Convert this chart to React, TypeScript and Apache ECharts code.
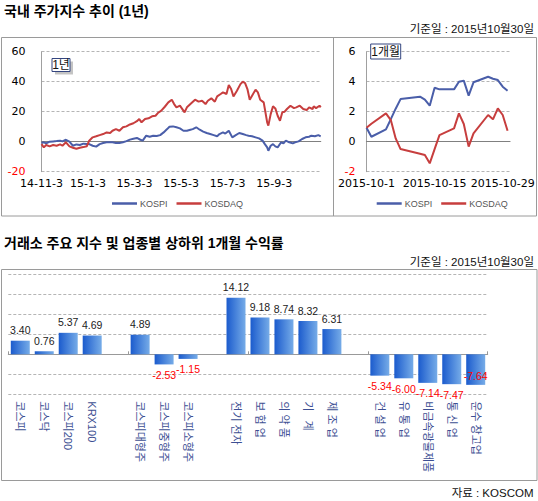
import React, { useEffect, useRef } from "react";
import * as echarts from "echarts";

// ---------- texts ----------
const title1 = "국내 주가지수 추이 (1년)";
const title2 = "거래소 주요 지수 및 업종별 상하위 1개월 수익률";
const baseDate = "기준일 : 2015년10월30일";
const source = "자료 : KOSCOM";
const badge1y = "1년";
const badge1m = "1개월";
const seriesNames = ["KOSPI", "KOSDAQ"];

// ---------- 1-year chart (x = trading-day index, labels every 40 days) ----------
const ticks1y = ["14-11-3", "15-1-3", "15-3-3", "15-5-3", "15-7-3", "15-9-3"];
const kospi1y: [number, number][] = [
  [0, -0.9], [2, -0.4], [4, -1.1], [7, 0], [10, 0.2], [13, 0.4], [16, 0.7], [18, 0.2], [21, 1.3], [24, 0],
  [27, -2.7], [30, -1.8], [33, -2.2], [36, -1.3], [39, -1.6], [41, -1.6], [44, -2.7], [47, -3.3], [50, -1.6],
  [53, -0.9], [56, -0.4], [59, -0.4], [61, -0.4], [64, -0.9], [67, -0.9], [70, -0.4], [73, 0.4], [76, 1.4],
  [79, 2.0], [82, 2.5], [85, 1.3], [87, 0.7], [90, 4.0], [93, 3.3], [96, 4.0], [99, 3.8], [102, 4.4],
  [105, 6.2], [108, 8.4], [110, 10.0], [113, 10.2], [116, 9.6], [119, 8.9], [122, 7.3], [125, 7.3],
  [128, 8.0], [130, 8.4], [133, 9.6], [136, 8.0], [139, 6.7], [142, 5.8], [145, 5.1], [148, 4.4],
  [151, 3.6], [153, 5.1], [156, 6.2], [158, 5.4], [161, 7.3], [164, 2.9], [167, 4.4], [170, 5.8],
  [173, 5.1], [176, 4.4], [178, 4.0], [181, 3.6], [184, 2.9], [187, 2.2], [190, 0.7], [192, -1.6],
  [194, -3.8], [195, -6.0], [197, -2.7], [199, -1.6], [201, -3.1], [203, -3.8], [206, -0.4], [208, -1.1],
  [210, 0.7], [213, -0.4], [216, -1.1], [218, -0.4], [221, 0.2], [224, 1.8], [227, 2.9], [230, 3.3],
  [232, 4.0], [235, 3.6], [238, 4.4], [240, 3.6],
];
const kosdaq1y: [number, number][] = [
  [0, -1.6], [2, -3.8], [4, -2.2], [7, -3.1], [10, -2.2], [13, -2.7], [16, -1.8], [18, -2.7], [21, -0.4],
  [24, -3.1], [27, -4.0], [30, -4.7], [33, -4.0], [36, -3.6], [39, -3.0], [41, 0.7], [44, 2.9], [47, 3.6],
  [50, 4.4], [53, 5.1], [56, 6.2], [59, 5.8], [61, 7.3], [64, 8.4], [67, 7.3], [70, 9.6], [73, 10.2],
  [76, 11.5], [79, 12.3], [82, 13.7], [84, 15.1], [86, 12.9], [89, 15.1], [92, 15.6], [95, 16.9],
  [98, 17.3], [100, 19.1], [103, 20.7], [106, 23.3], [109, 26.2], [112, 28.0], [114, 25.1], [116, 22.9],
  [119, 24.0], [123, 19.6], [125, 22.9], [128, 25.1], [132, 28.0], [135, 26.7], [138, 27.3], [141, 25.1],
  [143, 27.3], [146, 28.9], [149, 26.7], [151, 30.2], [154, 31.8], [156, 32.9], [159, 31.8], [161, 37.8],
  [163, 35.1], [165, 30.2], [168, 34.0], [171, 38.4], [173, 40.0], [175, 39.1], [177, 35.1], [179, 28.0],
  [181, 30.7], [184, 34.7], [186, 32.9], [188, 28.0], [191, 26.2], [192, 21.8], [194, 12.9], [195, 10.7],
  [197, 18.4], [199, 23.6], [201, 22.2], [203, 17.3], [205, 14.0], [207, 19.6], [209, 20.0], [211, 21.8],
  [214, 24.0], [217, 22.4], [219, 22.9], [222, 24.0], [225, 21.8], [228, 21.1], [230, 22.9], [233, 21.8],
  [234, 23.6], [236, 22.4], [239, 24.0], [240, 22.9],
];

// ---------- 1-month chart (x = day of October 2015) ----------
const days1m = [1, 2, 5, 6, 7, 8, 12, 13, 14, 15, 16, 19, 20, 21, 22, 23, 26, 27, 28, 29, 30];
const kospi1m = [0.93, 0.33, 0.82, 1.5, 2.2, 2.84, 3.0, 2.8, 2.4, 3.6, 3.49, 3.49, 4.0, 4.07, 3.07, 3.96, 4.33, 4.2, 4.11, 3.67, 3.4];
const kosdaq1m = [0.93, 1.2, 1.89, 1.44, 0.22, -0.49, -0.8, -0.89, -1.44, -0.5, 0.44, 0.89, 1.89, 1.18, -0.33, 0.56, 1.78, 1.49, 2.22, 1.78, 0.73];
const ticks1m = [1, 15, 29];

// ---------- bar chart ----------
const barCategories = [
  "코스피", "코스닥", "코스피200", "KRX100", " ",
  "코스피대형주", "코스피중형주", "코스피소형주", "  ",
  "전기 전자", "보 험 업", "의 약 품", "기   계", "제 조 업", "   ",
  "건 설 업", "유 통 업", "비금속광물제품", "통 신 업", "운수 창고업",
];
const barValues: (number | null)[] = [
  3.40, 0.76, 5.37, 4.69, null,
  4.89, -2.53, -1.15, null,
  14.12, 9.18, 8.74, 8.32, 6.31, null,
  -5.34, -6.00, -7.14, -7.47, -7.64,
];
const insideLabelCategories = ["운수 창고업"];

const BLUE = "#4a5ea9";
const RED = "#c73e3e";
const KR = '"Noto Sans CJK KR"';
const LAT_KR = `"Liberation Sans", ${KR}`;
const AX = '"DejaVu Sans"';

const gridLine = { show: true, lineStyle: { color: "#b5b5b5", type: [3, 2] as any, width: 1 } };

function buildOption() {
  const text = (x: number, y: number, t: string, font: string, align = "left", fill = "#000") => ({
    type: "text",
    x,
    y,
    z: 100,
    style: { text: t, font, fill, align, verticalAlign: "middle", textAlign: align, textVerticalAlign: "middle" },
  });
  const rect = (x: number, y: number, w: number, h: number, style: any, z = 1) => ({
    type: "rect",
    z,
    shape: { x, y, width: w, height: h },
    style,
  });

  const barData = barValues.map((v, i) => {
    if (v === null) return { value: null };
    const inside = insideLabelCategories.includes(barCategories[i]);
    return {
      value: v,
      label: {
        position: inside ? "insideBottom" : v < 0 ? "bottom" : "top",
        distance: inside ? 3 : 5,
        color: v < 0 ? "#ff0000" : "#222",
      },
    };
  });

  const yLabelColor = (v: any) => (Number(v) < 0 ? "#ff0000" : "#000");

  return {
    animation: false,
    backgroundColor: "#fff",
    textStyle: { fontFamily: KR },
    grid: [
      { left: 41.5, top: 51.7, width: 279.2, height: 120 },
      { left: 366.5, top: 51.7, width: 143.5, height: 120 },
      { left: 8.3, top: 274.3, width: 479.4, height: 120 },
    ],
    legend: [0, 1].map((k) => ({
      data: seriesNames,
      left: k === 0 ? 112 : 376.7,
      top: 199,
      padding: 0,
      icon: "rect",
      itemWidth: 25,
      itemHeight: 2.5,
      itemGap: 9,
      selectedMode: false,
      textStyle: { fontSize: 9, color: "#555", fontFamily: '"Liberation Sans"', padding: [0, 0, 0, -2] },
    })),
    xAxis: [
      {
        gridIndex: 0, type: "value", min: 0, max: 240, interval: 40,
        axisLine: { show: false, onZero: false }, axisTick: { show: false }, splitLine: { show: false },
        axisLabel: {
          margin: 6, fontSize: 11, lineHeight: 11, fontFamily: AX, color: "#000", showMaxLabel: false,
          formatter: (v: number) => ticks1y[Math.round(v / 40)] ?? "",
        },
      },
      {
        gridIndex: 0, type: "value", min: 0, max: 240,
        axisLine: { show: true, onZero: true, lineStyle: { color: "#808080", width: 1.2 } },
        axisTick: { show: false }, axisLabel: { show: false }, splitLine: { show: false },
      },
      {
        gridIndex: 1, type: "value", min: 1, max: 30.5, interval: 14,
        axisLine: { show: false, onZero: false }, axisTick: { show: false }, splitLine: { show: false },
        axisLabel: {
          margin: 6, fontSize: 11, lineHeight: 11, fontFamily: AX, color: "#000", showMaxLabel: false,
          formatter: (v: number) => (ticks1m.includes(v) ? `2015-10-${v}` : ""),
        },
      },
      {
        gridIndex: 1, type: "value", min: 1, max: 30.5,
        axisLine: { show: true, onZero: true, lineStyle: { color: "#808080", width: 1.2 } },
        axisTick: { show: false }, axisLabel: { show: false }, splitLine: { show: false },
      },
      {
        gridIndex: 2, type: "category", data: barCategories,
        axisLine: { show: false, onZero: false }, axisTick: { show: false },
        axisLabel: {
          interval: 0, rotate: -90, margin: 7, fontSize: 11, color: "#3d4f93",
          fontFamily: LAT_KR,
        },
      },
      {
        gridIndex: 2, type: "category", data: barCategories,
        axisLine: { show: true, onZero: true, lineStyle: { color: "#999", width: 1 } },
        axisTick: { show: true, length: 3, lineStyle: { color: "#999" } },
        axisLabel: { show: false },
      },
    ],
    yAxis: [
      {
        gridIndex: 0, type: "value", min: -20, max: 60, interval: 20,
        axisLine: { show: true, lineStyle: { color: "#a0a0a0" } }, axisTick: { show: false },
        splitLine: gridLine,
        axisLabel: { margin: 16, fontSize: 11, lineHeight: 10, fontFamily: AX, color: yLabelColor },
      },
      {
        gridIndex: 1, type: "value", min: -2, max: 6, interval: 2,
        axisLine: { show: true, lineStyle: { color: "#a0a0a0" } }, axisTick: { show: false },
        splitLine: gridLine,
        axisLabel: { margin: 11, fontSize: 11, lineHeight: 10, fontFamily: AX, color: yLabelColor },
      },
      {
        gridIndex: 2, type: "value", min: -10, max: 20, interval: 5,
        axisLine: { show: false }, axisTick: { show: false }, axisLabel: { show: false },
        splitLine: gridLine,
      },
    ],
    series: [
      {
        name: "KOSPI", type: "line", xAxisIndex: 0, yAxisIndex: 0, data: kospi1y,
        symbol: "none", lineStyle: { color: BLUE, width: 2 }, itemStyle: { color: BLUE },
      },
      {
        name: "KOSDAQ", type: "line", xAxisIndex: 0, yAxisIndex: 0, data: kosdaq1y,
        symbol: "none", lineStyle: { color: RED, width: 2 }, itemStyle: { color: RED },
      },
      {
        name: "KOSPI", type: "line", xAxisIndex: 2, yAxisIndex: 1,
        data: days1m.map((d, i) => [d, kospi1m[i]]),
        symbol: "none", lineStyle: { color: BLUE, width: 2 }, itemStyle: { color: BLUE },
      },
      {
        name: "KOSDAQ", type: "line", xAxisIndex: 2, yAxisIndex: 1,
        data: days1m.map((d, i) => [d, kosdaq1m[i]]),
        symbol: "none", lineStyle: { color: RED, width: 2 }, itemStyle: { color: RED },
      },
      {
        type: "bar", xAxisIndex: 4, yAxisIndex: 2, data: barData, barWidth: 19,
        itemStyle: {
          color: new echarts.graphic.LinearGradient(0, 0, 1, 0, [
            { offset: 0, color: "#1b5bcd" },
            { offset: 1, color: "#76ace8" },
          ]),
        },
        label: {
          show: true, fontSize: 10.5, fontFamily: '"Liberation Sans"',
          formatter: (p: any) => (p.value == null ? "" : Number(p.value).toFixed(2)),
        },
      },
    ],
    graphic: [
      text(4, 11, title1, `bold 14px ${LAT_KR}`),
      text(534, 29, baseDate, `11.5px ${LAT_KR}`, "right", "#111"),
      rect(1.5, 37.5, 535, 178.5, { fill: "none", stroke: "#9a9a9a", lineWidth: 1 }),
      { type: "line", z: 1, shape: { x1: 333.5, y1: 37.5, x2: 333.5, y2: 216 }, style: { stroke: "#9a9a9a", lineWidth: 1 } },
      rect(55, 61.5, 18, 13, { fill: "#c4c4c4" }, 99),
      rect(52, 58.5, 18, 13, { fill: "#fff", stroke: "#34457f", lineWidth: 1 }, 99),
      text(61, 65.3, badge1y, `12px ${LAT_KR}`, "center", "#111"),
      rect(370.7, 44, 30, 15, { fill: "#fff", stroke: "#34457f", lineWidth: 1 }, 99),
      text(385.7, 51.7, badge1m, `12px ${LAT_KR}`, "center", "#111"),
      text(4, 243, title2, `bold 14px ${LAT_KR}`),
      text(534, 261.7, baseDate, `11.5px ${LAT_KR}`, "right", "#111"),
      rect(1.5, 269.5, 535.5, 211, { fill: "none", stroke: "#9a9a9a", lineWidth: 1 }),
      text(533.5, 493, source, `11.5px ${LAT_KR}`, "right", "#111"),
    ],
  };
}

export default function App() {
  const ref = useRef<HTMLDivElement>(null);
  useEffect(() => {
    if (!ref.current) return;
    const chart = echarts.init(ref.current, null, { renderer: "svg" });
    chart.setOption(buildOption() as any);
    return () => chart.dispose();
  }, []);
  return (
    <div
      ref={ref}
      style={{ position: "absolute", left: 0, top: 0, width: 538, height: 501, background: "#fff" }}
    />
  );
}
